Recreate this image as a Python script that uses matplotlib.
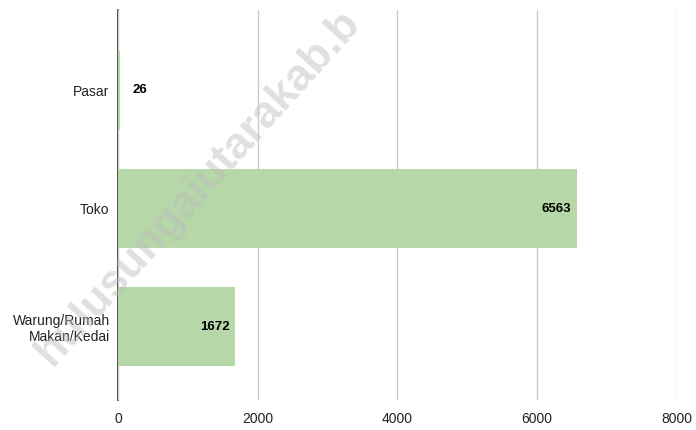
import matplotlib.pyplot as plt
import numpy as np

plt.rcParams['font.family'] = ['Liberation Sans', 'DejaVu Sans']

kategori = ['Pasar', 'Toko', 'Warung/Rumah\nMakan/Kedai']
jumlah = [26, 6563, 1672]
xticks = [0, 2000, 4000, 6000, 8000]

f = plt.figure(figsize=(6.96, 4.3), dpi=100)
ax = f.add_axes([0.1695, 0.0698, 0.8032, 0.907])

ypos = np.arange(len(kategori))
ax.barh(ypos, jumlah, height=0.67, color='#b6d7a8', zorder=2)

for y, v in zip(ypos, jumlah):
    if v < 500:
        ax.annotate(str(v), (v, y), xytext=(9, 0), textcoords='offset points',
                    ha='left', va='center', fontsize=9.5, fontweight='bold', color='black', zorder=4)
    else:
        ax.annotate(str(v), (v, y), xytext=(-4, 0), textcoords='offset points',
                    ha='right', va='center', fontsize=9.5, fontweight='bold', color='black', zorder=4)

ax.set_xlim(0, 8000)
ax.set_ylim(2.62, -0.68)
ax.set_xticks(xticks)
ax.set_xticklabels([str(t) for t in xticks], fontsize=10, color='#222222')
ax.set_yticks(ypos)
ax.set_yticklabels(kategori, fontsize=10, color='#222222')
ax.tick_params(axis='x', length=0, pad=9)
ax.tick_params(axis='y', length=0, pad=6)

ax.grid(axis='x', color='#cccccc', linewidth=1, zorder=0)
for s in ['top', 'right', 'bottom']:
    ax.spines[s].set_visible(False)
ax.spines['left'].set_color('#333333')
ax.spines['left'].set_linewidth(1.2)
ax.spines['left'].set_zorder(1.5)

# watermark
f.text(0.285, 0.565, 'hulusungaiutarakab.b', rotation=48,
       ha='center', va='center', rotation_mode='anchor', fontsize=32,
       fontweight='bold', color='#bbbbbb', alpha=0.45, zorder=10)

f.savefig('out.png', dpi=100)
